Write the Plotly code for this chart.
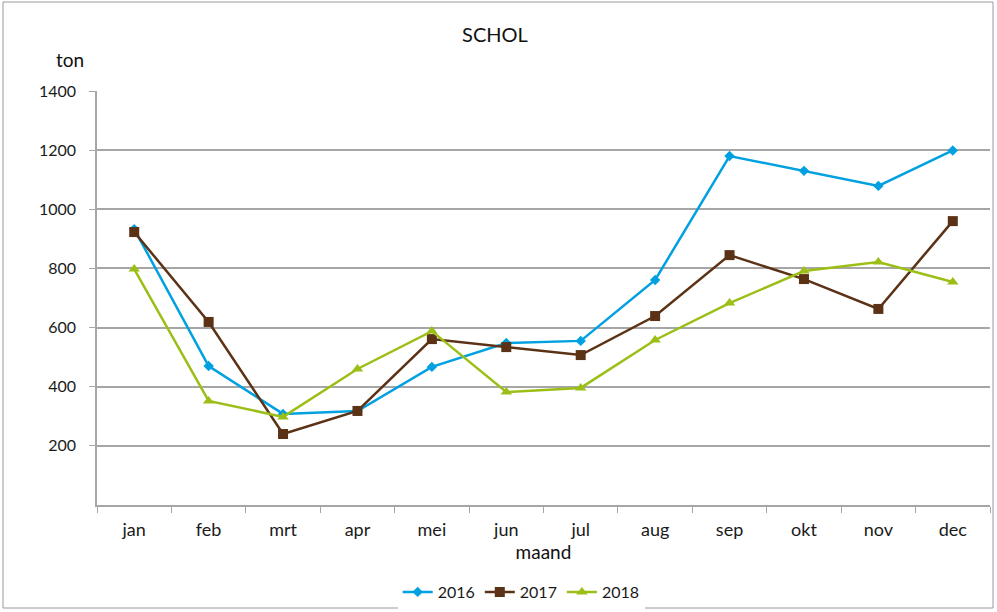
import plotly.graph_objects as go

months = ["jan", "feb", "mrt", "apr", "mei", "jun", "jul", "aug", "sep", "okt", "nov", "dec"]
ton_2016 = [933, 470, 308, 318, 467, 548, 555, 761, 1180, 1130, 1079, 1199]
ton_2017 = [923, 619, 240, 318, 561, 534, 507, 639, 845, 764, 663, 960]
ton_2018 = [798, 352, 298, 460, 588, 382, 396, 558, 683, 791, 822, 754]
y_ticks = [200, 400, 600, 800, 1000, 1200, 1400]

FONT = "Lato, 'Open Sans', sans-serif"
GRID = "#a6a6a6"

fig = go.Figure()
series = [
    ("2016", ton_2016, "#00a0e1", "diamond", 8),
    ("2017", ton_2017, "#5b3216", "square", 10),
    ("2018", ton_2018, "#9cbf17", "triangle-up", 10),
]
for name, values, color, symbol, size in series:
    fig.add_trace(
        go.Scatter(
            x=months,
            y=values,
            name=name,
            mode="lines+markers",
            line={"color": color, "width": 2.5},
            marker={"symbol": symbol, "size": size, "color": color},
        )
    )

fig.update_layout(
    width=997,
    height=612,
    margin={"l": 97, "r": 7, "t": 91, "b": 107, "autoexpand": False},
    paper_bgcolor="white",
    plot_bgcolor="white",
    font={"family": FONT, "size": 16, "color": "#1a1a1a"},
    title={
        "text": "SCHOL",
        "x": 495 / 997,
        "xanchor": "center",
        "y": 1 - 35 / 612,
        "yanchor": "middle",
        "font": {"size": 20, "color": "#111111"},
    },
    showlegend=True,
    legend={
        "orientation": "h",
        "x": 0.475,
        "xanchor": "center",
        "y": -87 / 414,
        "yanchor": "middle",
        "font": {"size": 16},
        "itemwidth": 30,
        "tracegroupgap": 0,
    },
    xaxis={
        "type": "category",
        "showline": True,
        "linecolor": GRID,
        "linewidth": 1.5,
        "ticks": "outside",
        "tickson": "boundaries",
        "ticklen": 6,
        "tickcolor": GRID,
        "ticklabelstandoff": 8,
        "tickfont": {"size": 18},
        "showgrid": False,
        "title": {"text": "maand", "standoff": 6, "font": {"size": 19, "color": "#111111"}},
        "range": [-0.5, 11.5],
    },
    yaxis={
        "range": [0, 1400],
        "tickvals": y_ticks,
        "showline": True,
        "linecolor": GRID,
        "linewidth": 1.5,
        "ticks": "outside",
        "ticklen": 6,
        "tickcolor": GRID,
        "ticklabelstandoff": 10,
        "showgrid": True,
        "gridcolor": GRID,
        "gridwidth": 1.5,
        "zeroline": False,
    },
    shapes=[
        {
            "type": "rect",
            "xref": "paper",
            "yref": "paper",
            "x0": -94 / 893,
            "x1": 1 + 3 / 893,
            "y0": -103 / 414,
            "y1": 1 + 89 / 414,
            "line": {"color": "#9a9a9a", "width": 1},
        }
    ],
    annotations=[
        {
            "text": "ton",
            "xref": "paper",
            "yref": "paper",
            "x": -27 / 893,
            "y": 1 + 32 / 414,
            "xanchor": "center",
            "yanchor": "middle",
            "showarrow": False,
            "font": {"size": 19, "color": "#111111"},
        }
    ],
)

# the page body has a default 8px margin; drop it so the figure fills the window
fig.write_html(
    "out.html",
    config={"displayModeBar": False},
    post_script="document.body.style.margin='0';",
)
